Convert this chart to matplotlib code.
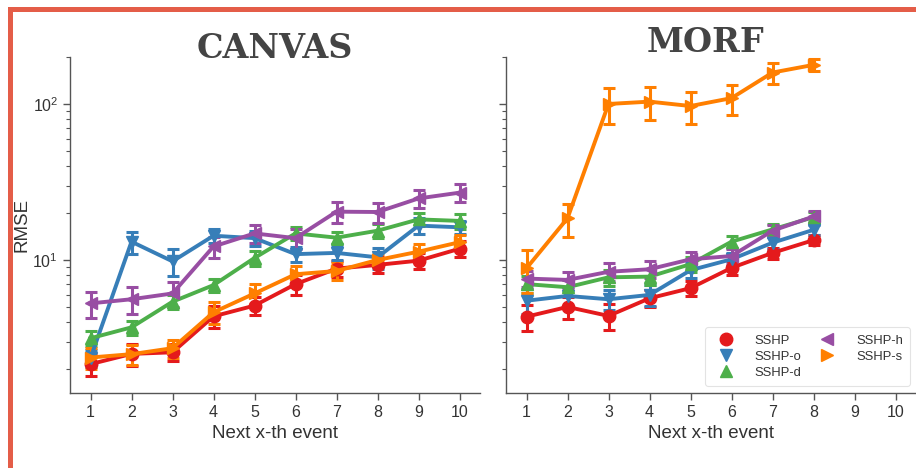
import matplotlib
matplotlib.use("Agg")
import matplotlib.pyplot as plt
from matplotlib.lines import Line2D
from matplotlib.patches import Rectangle

plt.rcParams['font.family'] = ['Liberation Sans', 'DejaVu Sans']

steps = [1, 2, 3, 4, 5, 6, 7, 8, 9, 10]
series = ["SSHP", "SSHP-o", "SSHP-d", "SSHP-h", "SSHP-s"]
colors = ["#e41a1c", "#377eb8", "#4daf4a", "#984ea3", "#ff7f00"]
markers = ["o", "v", "^", "<", ">"]

# CANVAS: RMSE and error half-widths per step
canvas_sshp = [2.15, 2.5, 2.56, 4.35, 5.1, 7.0, 8.8, 9.3, 9.9, 11.8]
canvas_sshp_o = [2.35, 13.1, 9.8, 14.3, 13.8, 10.9, 11.1, 10.4, 16.6, 16.2]
canvas_sshp_d = [3.15, 3.7, 5.4, 6.9, 10.3, 14.8, 13.9, 15.4, 18.2, 17.8]
canvas_sshp_h = [5.27, 5.6, 6.1, 12.2, 14.8, 13.8, 20.4, 20.3, 24.8, 27.0]
canvas_sshp_s = [2.37, 2.49, 2.72, 4.62, 6.1, 8.1, 8.5, 10.0, 11.3, 13.0]

canvas_err_sshp = [0.35, 0.4, 0.32, 0.7, 0.65, 1.0, 1.0, 1.1, 1.2, 1.35]
canvas_err_sshp_o = [0.3, 2.1, 1.95, 1.5, 1.5, 1.2, 1.1, 1.6, 1.85, 1.45]
canvas_err_sshp_d = [0.35, 0.38, 0.57, 0.7, 1.2, 1.4, 1.2, 1.5, 1.8, 1.95]
canvas_err_sshp_h = [1.0, 1.07, 1.1, 1.9, 2.0, 2.0, 3.2, 3.0, 3.4, 3.6]
canvas_err_sshp_s = [0.36, 0.36, 0.35, 0.75, 0.9, 1.1, 1.1, 0.9, 1.4, 1.45]

# MORF: RMSE and error half-widths per step (steps 1-8)
morf_sshp = [4.33, 5.0, 4.38, 5.68, 6.6, 8.9, 11.1, 13.4]
morf_sshp_o = [5.48, 5.88, 5.6, 5.97, 8.6, 10.1, 12.9, 15.6]
morf_sshp_d = [7.0, 6.69, 7.74, 7.82, 9.4, 13.1, 15.7, 18.8]
morf_sshp_h = [7.6, 7.45, 8.4, 8.72, 10.1, 10.6, 15.4, 19.0]
morf_sshp_s = [8.85, 18.5, 100.0, 103.5, 97.0, 109.0, 159.0, 178.0]

morf_err_sshp = [0.8, 0.8, 0.83, 0.7, 0.76, 0.9, 0.9, 1.0]
morf_err_sshp_o = [1.0, 0.8, 0.8, 0.9, 0.9, 1.0, 1.1, 1.2]
morf_err_sshp_d = [0.9, 0.8, 0.9, 0.9, 1.0, 1.2, 1.3, 1.5]
morf_err_sshp_h = [0.9, 0.9, 1.1, 1.1, 1.1, 1.2, 1.4, 1.6]
morf_err_sshp_s = [2.7, 4.4, 26.0, 25.0, 23.0, 24.0, 25.0, 16.0]

panels = [
    ("CANVAS",
     [canvas_sshp, canvas_sshp_o, canvas_sshp_d, canvas_sshp_h, canvas_sshp_s],
     [canvas_err_sshp, canvas_err_sshp_o, canvas_err_sshp_d, canvas_err_sshp_h, canvas_err_sshp_s]),
    ("MORF",
     [morf_sshp, morf_sshp_o, morf_sshp_d, morf_sshp_h, morf_sshp_s],
     [morf_err_sshp, morf_err_sshp_o, morf_err_sshp_d, morf_err_sshp_h, morf_err_sshp_s]),
]

fig = plt.figure(figsize=(9.16, 4.68), dpi=100)
W, H = 916, 468


def px_axes(x0, y0, x1, y1, **kw):
    return fig.add_axes([x0 / W, 1 - y1 / H, (x1 - x0) / W, (y1 - y0) / H], **kw)


ax_left = px_axes(70, 57, 480, 392.7)
ax_right = px_axes(506, 57, 916, 392.7, sharey=ax_left)
axes = [ax_left, ax_right]

spine_col = "#555555"
text_col = "#333333"

for ax, (name, vals, errs) in zip(axes, panels):
    for v, e, c, m in zip(vals, errs, colors, markers):
        xs = steps[:len(v)]
        ax.errorbar(xs, v, yerr=e, color=c, marker=m, markersize=9,
                    markeredgecolor=c, lw=2.8, elinewidth=2.2, capsize=4,
                    capthick=2.2, zorder=3)
    ax.set_yscale("log")
    ax.set_xlim(0.5, 10.5)
    ax.set_xticks(steps)
    ax.set_xlabel("Next x-th event", fontsize=13.5, color=text_col)
    for s in ("top", "right"):
        ax.spines[s].set_visible(False)
    for s in ("left", "bottom"):
        ax.spines[s].set_color(spine_col)
        ax.spines[s].set_linewidth(1.0)
    ax.tick_params(which="major", length=5, width=1.0, color=spine_col,
                   labelsize=11.5, labelcolor=text_col)
    ax.tick_params(which="minor", length=3, width=0.8, color=spine_col)

ax_left.set_ylim(1.41, 200)
ax_left.set_ylabel("RMSE", fontsize=13.5, color=text_col)
ax_left.yaxis.set_label_coords((30 - 70) / 410, 0.5)
ax_right.tick_params(axis="y", which="both", labelleft=False)

# Panel titles
fig.text(275 / W, 1 - 49 / H, "CANVAS", ha="center", va="center",
         fontsize=24, fontweight="bold", family="DejaVu Serif", color="#444444")
fig.text(706 / W, 1 - 42 / H, "MORF", ha="center", va="center",
         fontsize=24, fontweight="bold", family="DejaVu Serif", color="#444444")

handles = [Line2D([], [], color=c, marker=m, linestyle="none", markersize=9)
           for c, m in zip(colors, markers)]
leg = ax_right.legend(handles, series, loc="lower right", ncol=2,
                      fontsize=9.4, frameon=True, borderpad=0.55,
                      handletextpad=1.2, columnspacing=1.0, labelspacing=0.3,
                      borderaxespad=0.0,
                      bbox_to_anchor=((910 - 506) / 410, (392.7 - 386) / 335.7))
leg.get_frame().set_edgecolor("#dddddd")
leg.get_frame().set_linewidth(0.8)
for t in leg.get_texts():
    t.set_color(text_col)

# Frame strokes along the left and top edges
border = "#e45d48"
fig.patches.append(Rectangle((8 / W, 0), 5 / W, 1 - 7 / H, transform=fig.transFigure,
                             facecolor=border, edgecolor="none", zorder=10))
fig.patches.append(Rectangle((8 / W, 1 - 12 / H), 1 - 8 / W, 5 / H, transform=fig.transFigure,
                             facecolor=border, edgecolor="none", zorder=10))

fig.savefig("out.png", dpi=100)
